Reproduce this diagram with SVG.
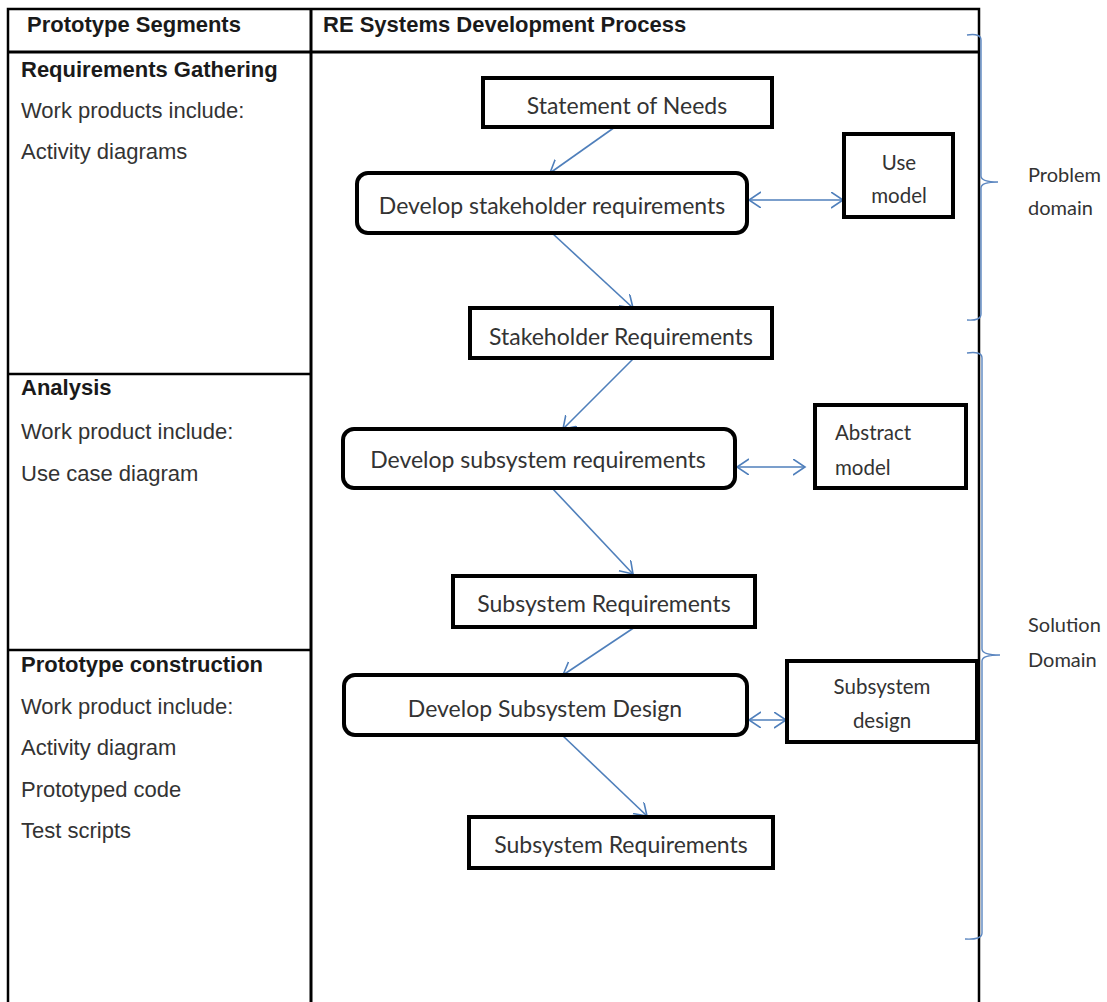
<svg xmlns="http://www.w3.org/2000/svg" width="1107" height="1002" viewBox="0 0 1107 1002">
<style>
.bg{fill:#ffffff}
.tbl{stroke:#000;stroke-width:2.5;fill:none}
.hdr{font-family:"Liberation Sans",Arial,sans-serif;font-size:22px;font-weight:bold;fill:#1a1a1a}
.lt{font-family:"Liberation Sans",Arial,sans-serif;font-size:22px;fill:#333}
.box{fill:#fff;stroke:#000;stroke-width:4}
.nt{font-family:Lato,"Open Sans",sans-serif;font-size:23px;fill:#333;text-anchor:middle}
.st{font-family:Lato,"Open Sans",sans-serif;font-size:20.5px;fill:#333}
.dl{font-family:Lato,"Open Sans",sans-serif;font-size:20px;fill:#333}
.con{stroke:#4f7fbb;stroke-width:1.6;fill:none}
.brace{stroke:#5b86c0;stroke-width:1.4;fill:none}
</style>
<defs>
<marker id="ah" markerUnits="userSpaceOnUse" markerWidth="16" markerHeight="18" refX="12" refY="8" orient="auto-start-reverse" viewBox="0 0 16 18">
<path d="M0,0 L12,8 L0,16" fill="none" stroke="#4f7fbb" stroke-width="1.6"/>
</marker>
</defs>
<rect class="bg" x="0" y="0" width="1107" height="1002"/>
<g id="table">
<path class="tbl" d="M8,1004 L8,9 L979,9 L979,1004"/>
<line class="tbl" x1="8" y1="52" x2="979" y2="52" style="stroke-width:3"/>
<line class="tbl" x1="311" y1="9" x2="311" y2="1004" style="stroke-width:3"/>
<line class="tbl" x1="8" y1="374" x2="311" y2="374"/>
<line class="tbl" x1="8" y1="650" x2="311" y2="650"/>
<text class="hdr" x="27" y="32">Prototype Segments</text>
<text class="hdr" x="323" y="32">RE Systems Development Process</text>
</g>
<g id="seg-requirements">
<text class="hdr" x="21" y="77">Requirements Gathering</text>
<text class="lt" x="21" y="118">Work products include:</text>
<text class="lt" x="21" y="159">Activity diagrams</text>
</g>
<g id="seg-analysis">
<text class="hdr" x="21" y="395">Analysis</text>
<text class="lt" x="21" y="439">Work product include:</text>
<text class="lt" x="21" y="481">Use case diagram</text>
</g>
<g id="seg-prototype">
<text class="hdr" x="21" y="672">Prototype construction</text>
<text class="lt" x="21" y="714">Work product include:</text>
<text class="lt" x="21" y="755">Activity diagram</text>
<text class="lt" x="21" y="797">Prototyped code</text>
<text class="lt" x="21" y="838">Test scripts</text>
</g>
<g id="connectors">
<line class="con" x1="615" y1="127" x2="550" y2="173" marker-end="url(#ah)"/>
<line class="con" x1="552" y1="233" x2="633" y2="308" marker-end="url(#ah)"/>
<line class="con" x1="634" y1="358" x2="563" y2="429" marker-end="url(#ah)"/>
<line class="con" x1="552" y1="488" x2="633" y2="574" marker-end="url(#ah)"/>
<line class="con" x1="635" y1="627" x2="563" y2="675" marker-end="url(#ah)"/>
<line class="con" x1="562" y1="735" x2="647" y2="816" marker-end="url(#ah)"/>
<line class="con" x1="749" y1="200" x2="843" y2="200" marker-start="url(#ah)" marker-end="url(#ah)"/>
<line class="con" x1="737" y1="467" x2="805" y2="467" marker-start="url(#ah)" marker-end="url(#ah)"/>
<line class="con" x1="749" y1="720" x2="786" y2="720" marker-start="url(#ah)" marker-end="url(#ah)"/>
</g>
<g id="statement-of-needs">
<rect class="box" x="483" y="78" width="289" height="49"/>
<text class="nt" x="627" y="114">Statement of Needs</text>
</g>
<g id="develop-stakeholder">
<rect class="box" x="357" y="173" width="390" height="60" rx="11"/>
<text class="nt" x="552" y="214">Develop stakeholder requirements</text>
</g>
<g id="use-model">
<rect class="box" x="844" y="134" width="109" height="83"/>
<text class="st" x="899" y="170" text-anchor="middle">Use</text>
<text class="st" x="899" y="203" text-anchor="middle">model</text>
</g>
<g id="stakeholder-requirements">
<rect class="box" x="470" y="308" width="302" height="50"/>
<text class="nt" x="621" y="345">Stakeholder Requirements</text>
</g>
<g id="develop-subsystem-req">
<rect class="box" x="343" y="429" width="392" height="59" rx="11"/>
<text class="nt" x="538" y="468">Develop subsystem requirements</text>
</g>
<g id="abstract-model">
<rect class="box" x="815" y="405" width="151" height="83"/>
<text class="st" x="835" y="440">Abstract</text>
<text class="st" x="835" y="475">model</text>
</g>
<g id="subsystem-requirements-1">
<rect class="box" x="453" y="576" width="302" height="51"/>
<text class="nt" x="604" y="612">Subsystem Requirements</text>
</g>
<g id="develop-subsystem-design">
<rect class="box" x="344" y="675" width="403" height="60" rx="11"/>
<text class="nt" x="545" y="717">Develop Subsystem Design</text>
</g>
<g id="subsystem-design">
<rect class="box" x="787" y="661" width="190" height="81"/>
<text class="st" x="882" y="694" text-anchor="middle">Subsystem</text>
<text class="st" x="882" y="728" text-anchor="middle">design</text>
</g>
<g id="subsystem-requirements-2">
<rect class="box" x="469" y="817" width="304" height="51"/>
<text class="nt" x="621" y="853">Subsystem Requirements</text>
</g>
<g id="problem-domain">
<path class="brace" d="M967,35 Q981,33 981,40 L981,176 Q981,182 998,182 Q981,182 981,188 L981,314 Q981,321 967,320"/>
<text class="dl" x="1028" y="182">Problem</text>
<text class="dl" x="1028" y="215">domain</text>
</g>
<g id="solution-domain">
<path class="brace" d="M967,353 Q982,351 982,358 L982,649 Q982,655 1000,655 Q982,655 982,661 L982,933 Q982,940 965,939"/>
<text class="dl" x="1028" y="632">Solution</text>
<text class="dl" x="1028" y="667">Domain</text>
</g>
</svg>
